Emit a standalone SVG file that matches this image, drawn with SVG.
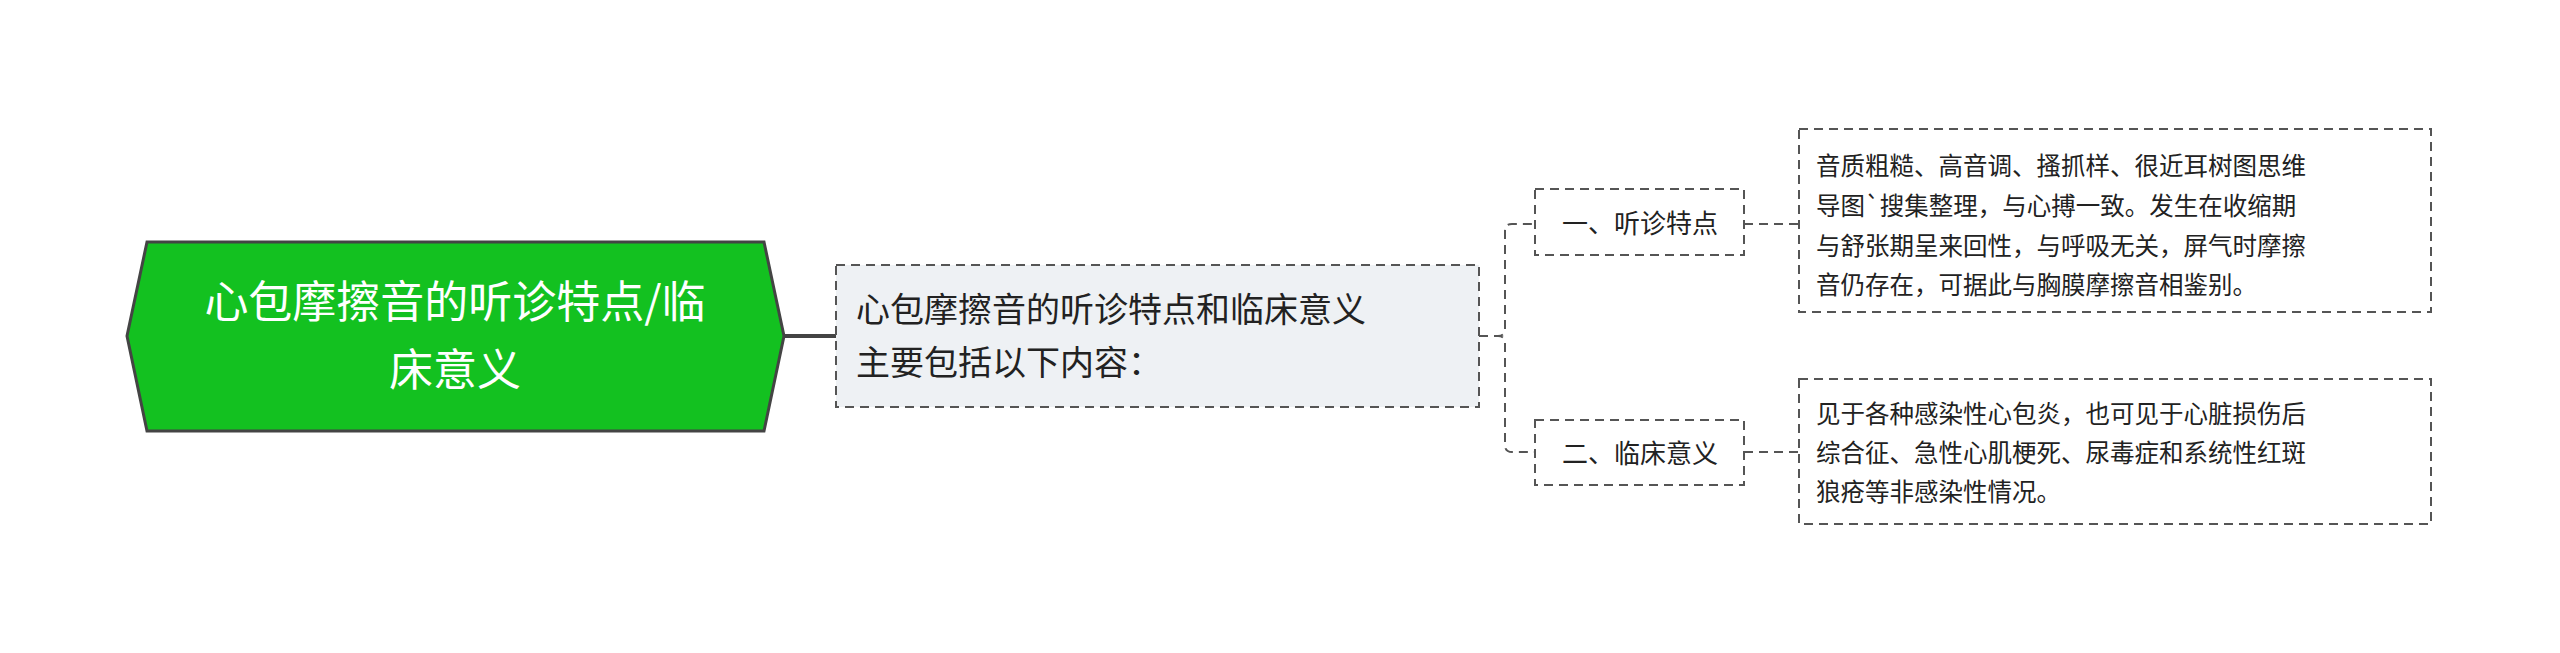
<svg xmlns="http://www.w3.org/2000/svg" width="2560" height="653" viewBox="0 0 2560 653">
<style>
text{font-family:"Noto Sans CJK SC","Liberation Sans",sans-serif;fill:#222}
.d{fill:#fff;stroke:#555;stroke-width:2;stroke-dasharray:9 6}
.c{fill:none;stroke:#555;stroke-width:2;stroke-dasharray:9 6}
</style>
<rect width="2560" height="653" fill="#fff"/>
<g id="connectors">
<line x1="784" y1="336" x2="836" y2="336" stroke="#444" stroke-width="4"/>
<path class="c" d="M1479 336 H1498 Q1505 336 1505 329 V231 Q1505 224 1512 224 H1535"/>
<path class="c" d="M1479 336 H1498 Q1505 336 1505 343 V445 Q1505 452 1512 452 H1535"/>
<line class="c" x1="1744" y1="224" x2="1799" y2="224"/>
<line class="c" x1="1744" y1="452" x2="1799" y2="452"/>
</g>
<g id="root">
<polygon points="147,242 764,242 784,336 764,431 147,431 127,336" fill="#13c120" stroke="#444" stroke-width="3"/>
<text x="455" y="318" font-size="44" text-anchor="middle" style="fill:#fff">心包摩擦音的听诊特点/临</text>
<text x="455" y="386" font-size="44" text-anchor="middle" style="fill:#fff">床意义</text>
</g>
<g id="main">
<rect class="d" x="836" y="265" width="643" height="142" style="fill:#eef1f4"/>
<text x="856" y="322" font-size="34">心包摩擦音的听诊特点和临床意义</text>
<text x="856" y="375" font-size="34">主要包括以下内容：</text>
</g>
<g id="c1">
<rect class="d" x="1535" y="189" width="209" height="66"/>
<text x="1640" y="233" font-size="26" text-anchor="middle">一、听诊特点</text>
</g>
<g id="c2">
<rect class="d" x="1535" y="420" width="209" height="65"/>
<text x="1640" y="463" font-size="26" text-anchor="middle">二、临床意义</text>
</g>
<g id="leaf1">
<rect class="d" x="1799" y="129" width="632" height="183"/>
<text font-size="24.5"><tspan x="1816" y="175">音质粗糙、高音调、搔抓样、很近耳树图思维</tspan><tspan x="1816" y="215">导图`搜集整理，与心搏一致。发生在收缩期</tspan><tspan x="1816" y="255">与舒张期呈来回性，与呼吸无关，屏气时摩擦</tspan><tspan x="1816" y="294">音仍存在，可据此与胸膜摩擦音相鉴别。</tspan></text>
</g>
<g id="leaf2">
<rect class="d" x="1799" y="379" width="632" height="145"/>
<text font-size="24.5"><tspan x="1816" y="423">见于各种感染性心包炎，也可见于心脏损伤后</tspan><tspan x="1816" y="462">综合征、急性心肌梗死、尿毒症和系统性红斑</tspan><tspan x="1816" y="501">狼疮等非感染性情况。</tspan></text>
</g>
</svg>
